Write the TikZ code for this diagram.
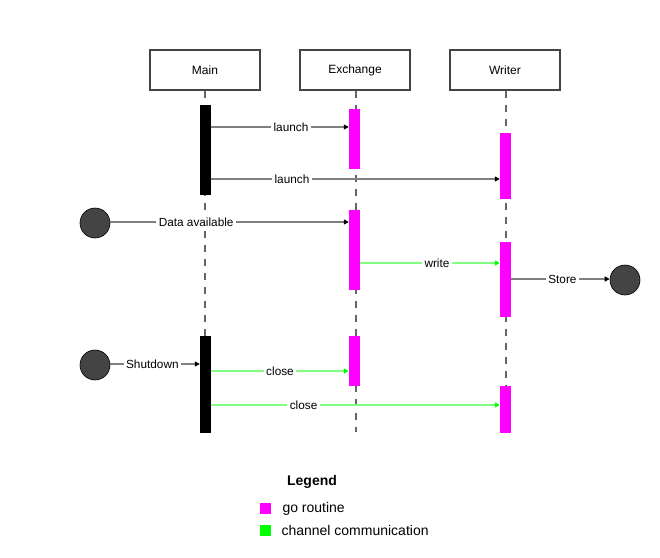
\documentclass[tikz,border=0pt]{standalone}
\usepackage{fontspec}
\setmainfont{Liberation Sans}
\usepackage{xcolor}
\usetikzlibrary{arrows.meta}

\definecolor{lifegray}{HTML}{666666}
\definecolor{msggray}{HTML}{808080}
\definecolor{chgreen}{HTML}{80FF80}
\definecolor{gomag}{HTML}{FF00FF}
\definecolor{dotgray}{HTML}{444444}

\tikzset{
  actor/.style={draw=dotgray,line width=1.2pt,minimum width=110pt,minimum height=40pt,
    font=\fontsize{12}{14}\selectfont},
  life/.style={lifegray,line width=1.5pt,dash pattern=on 7pt off 7pt},
  gobar/.style={fill=gomag,minimum width=11pt,inner sep=0pt},
  mainbar/.style={fill=black,minimum width=11pt,inner sep=0pt},
  msg/.style={msggray,line width=1.5pt,-{Triangle[length=5pt,width=5pt,black]}},
  chan/.style={chgreen,line width=1.5pt,-{Triangle[length=5pt,width=5pt,green]}},
  lbl/.style={fill=white,text=black,inner sep=2.5pt,font=\fontsize{11.8}{13}\selectfont},
  event/.style={circle,draw=black,fill=dotgray,minimum size=30pt,line width=0.6pt},
  keytext/.style={anchor=west,font=\fontsize{14}{16}\selectfont}
}

\begin{document}
\begin{tikzpicture}[x=1pt,y=-1pt]
  \useasboundingbox[fill=white] (0,0) rectangle (660,557);
  % actors
  \node[actor] (main) at (205,70) {Main};
  \node[actor] (exch) at (355,70) {Exchange};
  \node[actor] (writer) at (505,70) {Writer};
  \coordinate (lend) at (0,432);
  \draw[life] (main) -- (main |- lend);
  \draw[life] (exch.south) ++(1,0) coordinate (exchtop) -- (exchtop |- lend);
  \draw[life] (writer.south) ++(1,0) coordinate (writertop) -- (writertop |- lend);
  %
  % go routines
  \node[mainbar,minimum height=90pt] (mainA) at (205.5,150) {};
  \node[mainbar,minimum height=97pt] (mainB) at (205.5,384.5) {};
  \node[gobar,minimum height=60pt] (exchA) at (354.5,139) {};
  \node[gobar,minimum height=80pt] (exchB) at (354.5,250) {};
  \node[gobar,minimum height=50pt] (exchC) at (354.5,361) {};
  \node[gobar,minimum height=66pt] (writerA) at (505.5,166) {};
  \node[gobar,minimum height=75pt] (writerB) at (505.5,279.5) {};
  \node[gobar,minimum height=47pt] (writerC) at (505.5,409.5) {};
  %
  % outside events
  \node[event] (data) at (95,223) {};
  \node[event] (stop) at (95,365) {};
  \node[event] (store) at (625,280) {};
  %
  % rows of the messages
  \coordinate (r1) at (0,127);
  \coordinate (r2) at (0,179);
  \coordinate (r3) at (0,222);
  \coordinate (r4) at (0,263);
  \coordinate (r5) at (0,279);
  \coordinate (r6) at (0,364);
  \coordinate (r7) at (0,371);
  \coordinate (r8) at (0,405);
  \draw[msg] (mainA.east |- r1) -- node[lbl,pos=0.58]{launch} (exchA.west |- r1);
  \draw[msg] (mainA.east |- r2) -- node[lbl,pos=0.28]{launch} (writerA.west |- r2);
  \draw[msg] (data.east |- r3) -- node[lbl,pos=0.36]{Data available} (exchB.west |- r3);
  \draw[chan] (exchB.east |- r4) -- node[lbl,pos=0.55]{write} (writerB.west |- r4);
  \draw[msg] (writerB.east |- r5) -- node[lbl,pos=0.52]{Store} (store.west |- r5);
  \draw[msg] (stop.east |- r6) -- node[lbl,pos=0.47]{Shutdown} (mainB.west |- r6);
  \draw[chan] (mainB.east |- r7) -- node[lbl,pos=0.5]{close} (exchC.west |- r7);
  \draw[chan] (mainB.east |- r8) -- node[lbl,pos=0.32]{close} (writerC.west |- r8);
  %
  % legend
  \node[font=\fontsize{14}{16}\selectfont\bfseries] (legend) at (312,482) {Legend};
  \node[fill=gomag,minimum size=11pt,inner sep=0pt] (keygo) at (265.5,508.5) {};
  \node[fill=green,minimum size=11pt,inner sep=0pt] (keychan) at (265.5,530.5) {};
  \node[keytext] (keygotxt) at (279,508.5) {go routine};
  \node[keytext] (keychantxt) at (278,530.5) {channel communication};
\end{tikzpicture}
\end{document}
